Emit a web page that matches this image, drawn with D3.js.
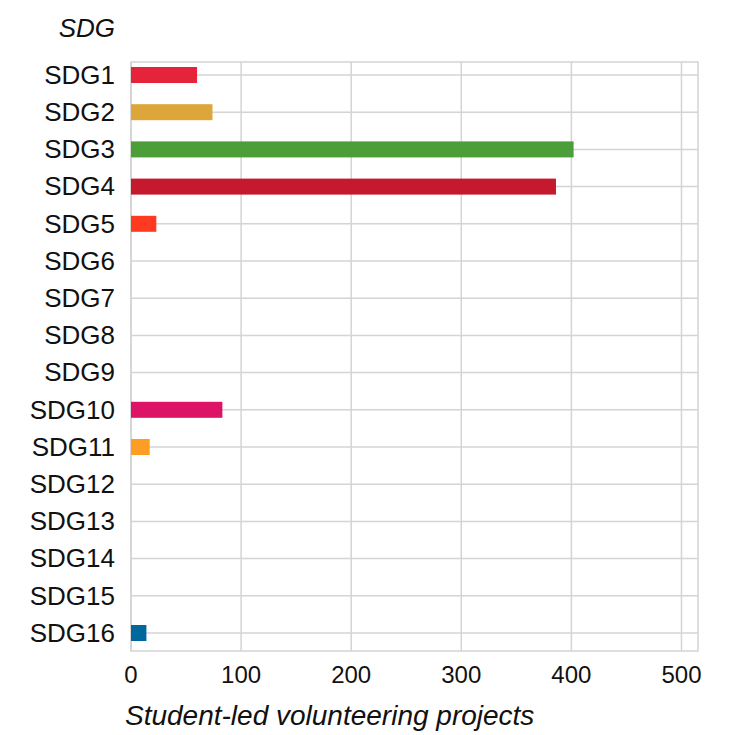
<!DOCTYPE html>
<html><head><meta charset="utf-8">
<script src="https://cdn.jsdelivr.net/npm/d3@7"></script>
<style>
html,body{margin:0;padding:0;background:#fff;}
text{font-family:"Liberation Sans",Arial,Helvetica,sans-serif;fill:#111;}
</style></head>
<body>
<svg id="chart" width="734" height="735"></svg>
<script>
const categories = ["SDG1","SDG2","SDG3","SDG4","SDG5","SDG6","SDG7","SDG8","SDG9","SDG10","SDG11","SDG12","SDG13","SDG14","SDG15","SDG16"];
const values = [60,74,402,386,23,0,0,0,0,83,17,0,0,0,0,14];
const colors = ["#E5243B","#DDA63A","#4C9F38","#C5192D","#FF3A21","#26BDE2","#FCC30B","#A21942","#FD6925","#DD1367","#FD9D24","#BF8B2E","#3F7E44","#0A97D9","#56C02B","#00689D"];
const xTicks = [0,100,200,300,400,500];
const xMax = 515;
const yTitle = "SDG";
const xTitle = "Student-led volunteering projects";

(function(){
const svg = d3.select("#chart");
const pLeft = 131, pRight = 698, pTop = 62, pBottom = 651;
const x = d3.scaleLinear().domain([0,xMax]).range([pLeft,pRight]);
const y = d3.scalePoint().domain(categories).range([75,633]);
const barH = 16;
const grid = "#d4d4d4";

svg.append("g").selectAll("line").data(xTicks).join("line")
  .attr("x1",d=>x(d)).attr("x2",d=>x(d)).attr("y1",pTop).attr("y2",pBottom)
  .attr("stroke",grid).attr("stroke-width",1.5);
svg.append("g").selectAll("line").data(categories).join("line")
  .attr("x1",pLeft).attr("x2",pRight).attr("y1",d=>y(d)).attr("y2",d=>y(d))
  .attr("stroke",grid).attr("stroke-width",1.5);
svg.append("rect").attr("x",pLeft).attr("y",pTop).attr("width",pRight-pLeft).attr("height",pBottom-pTop)
  .attr("fill","none").attr("stroke",grid).attr("stroke-width",1.5);

svg.append("g").selectAll("rect").data(categories).join("rect")
  .attr("x",x(0)).attr("y",d=>y(d)-barH/2)
  .attr("width",(d,i)=>x(values[i])-x(0)).attr("height",barH)
  .attr("fill",(d,i)=>colors[i]);

svg.append("g").selectAll("text").data(categories).join("text")
  .attr("x",115).attr("y",d=>y(d)).attr("dy","0.34em")
  .attr("text-anchor","end").attr("font-size",26).text(d=>d);
svg.append("g").selectAll("text").data(xTicks).join("text")
  .attr("x",d=>x(d)).attr("y",683).attr("text-anchor","middle")
  .attr("font-size",24).text(d=>d);
svg.append("text").attr("x",115).attr("y",37).attr("text-anchor","end")
  .attr("font-size",26).attr("font-style","italic").text(yTitle);
svg.append("text").attr("x",125).attr("y",725)
  .attr("font-size",28).attr("font-style","italic").text(xTitle);
})();
</script>
</body></html>
